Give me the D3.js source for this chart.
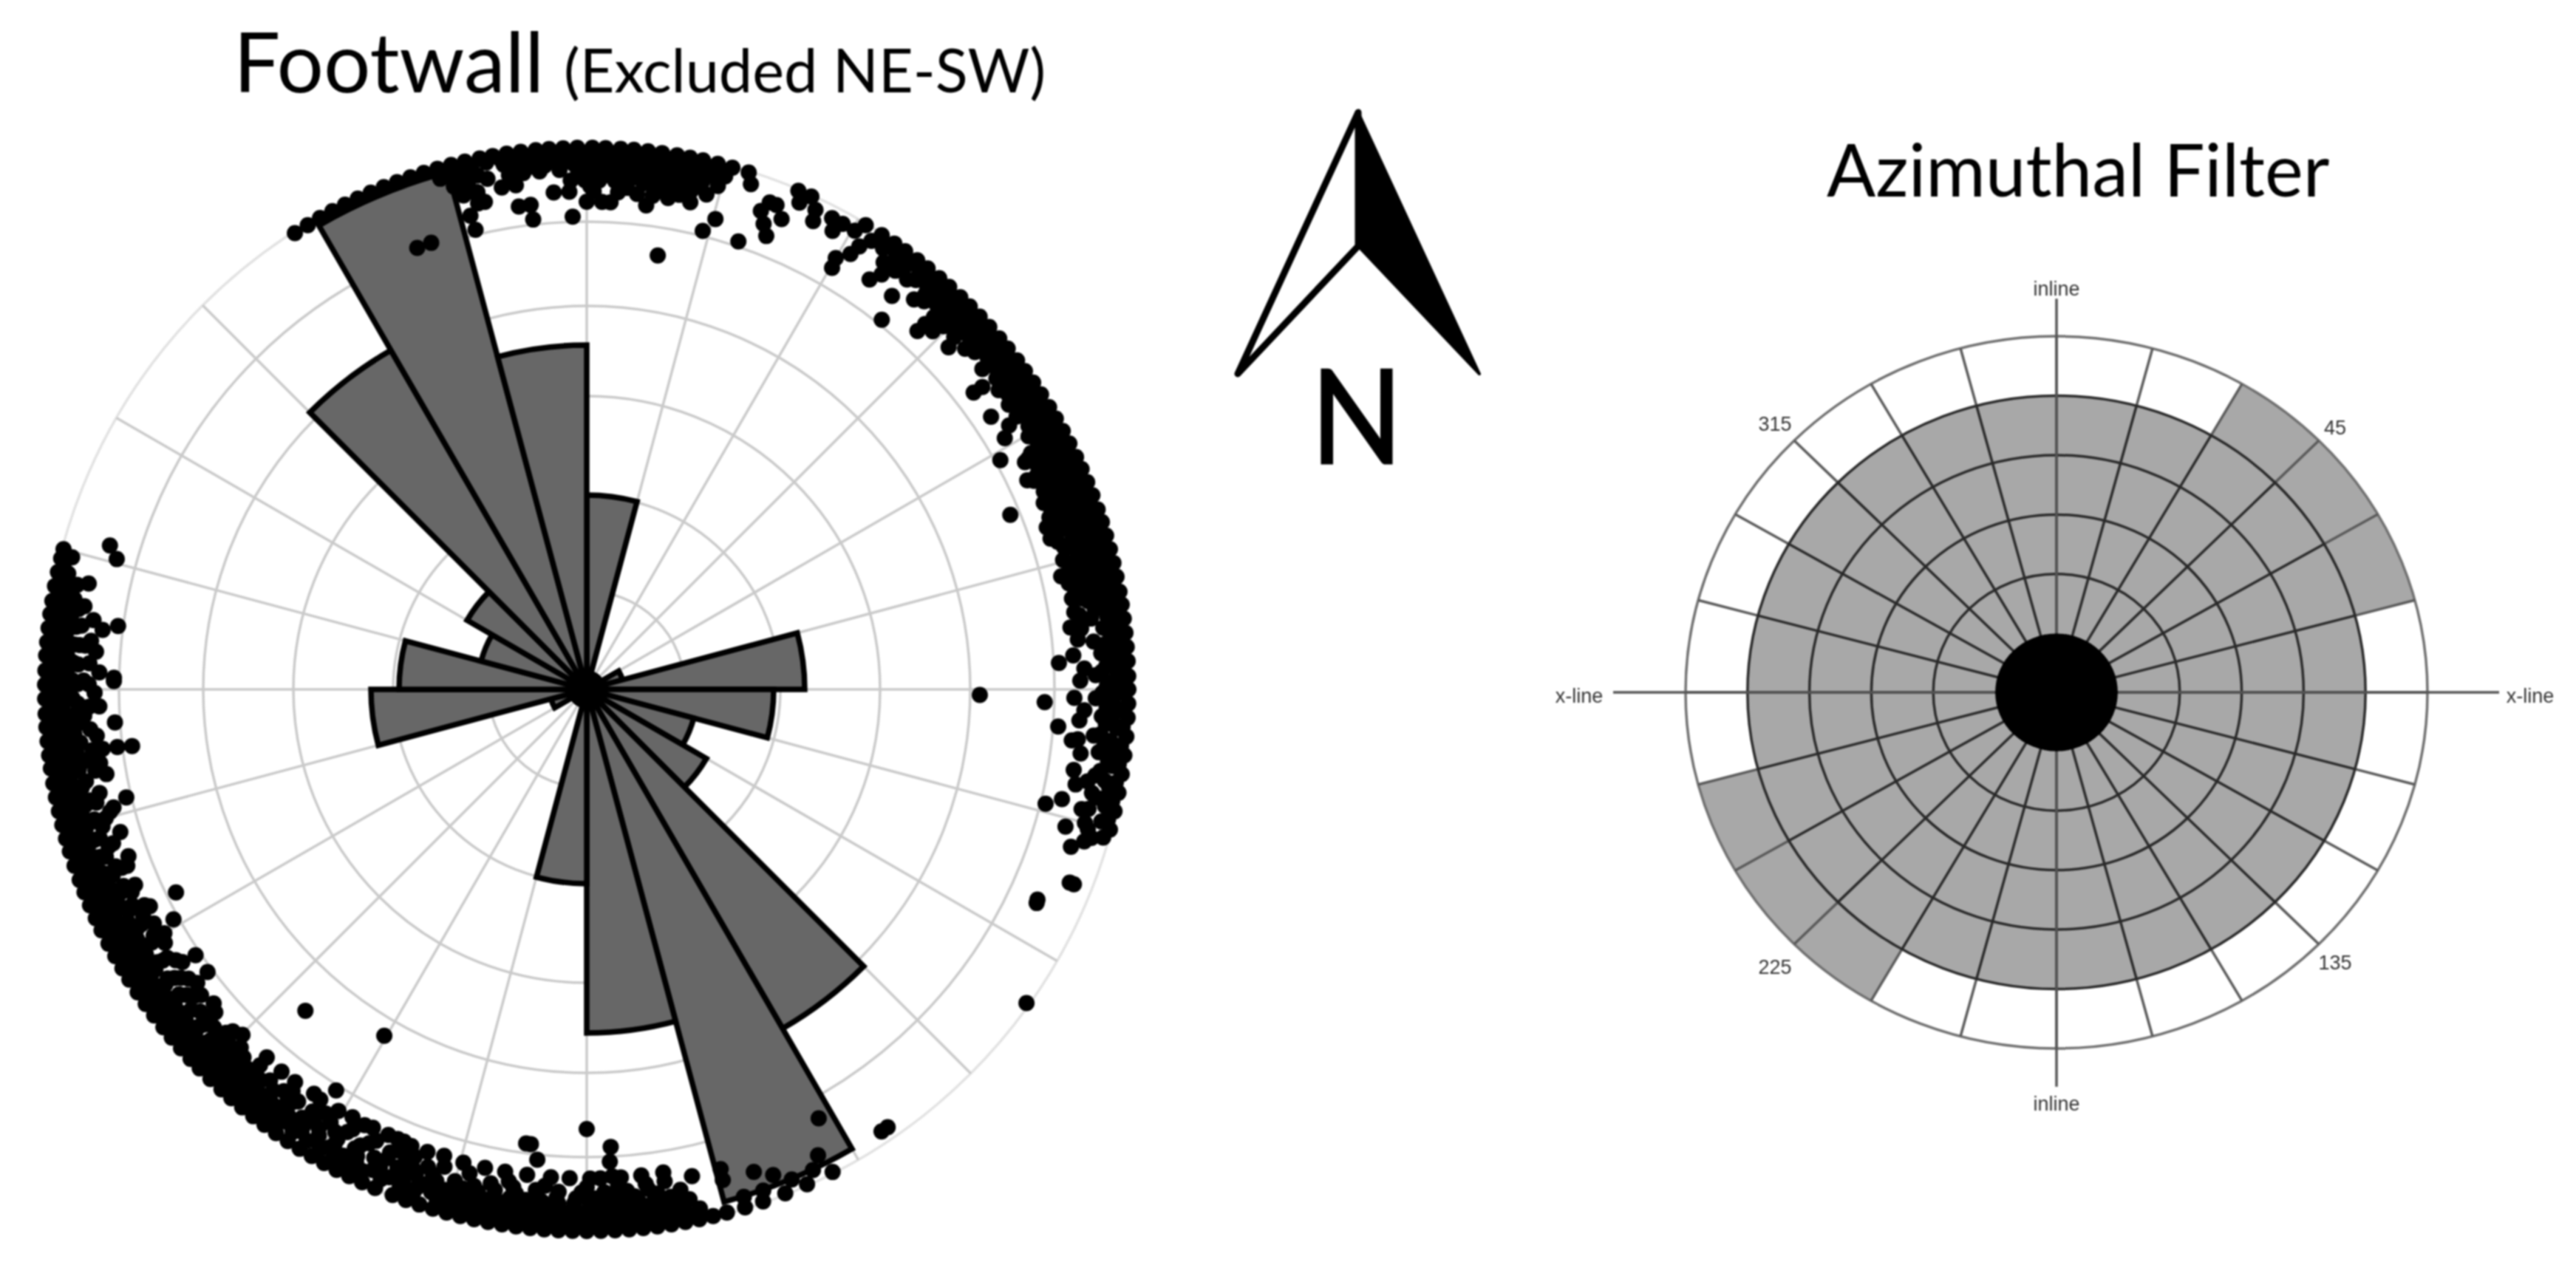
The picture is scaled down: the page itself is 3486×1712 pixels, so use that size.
<!DOCTYPE html>
<html><head><meta charset="utf-8">
<script src="https://cdn.jsdelivr.net/npm/d3@7"></script>
<style>html,body{margin:0;padding:0;background:#fff}svg{display:block;filter:blur(1.1px)}</style>
</head><body><div id="chart"></div>
<script>
// Rose diagram: one radial length per 15 degree bin, clockwise from north
const roseBinWidth = 15;
const roseValues = [263,22,22,22,50,295,253,150,187,530,718,465,263,22,22,22,50,292,254,148,187,530,725,466];
const roseRings = [133,262,397,519,633,735];
const roseSpokes = d3.range(0,360,15);

// Scatter points, each row: [radial value, azimuths]
const dotRows = [
 [733,[-32.6,-31,-29.5,-28,-26.5,-25,-23.5,-22,-20.5,-19,-17.5,-16,-14.5,-13,-11.4,-10,-8.5,-7,-5.4,-4,-2.5,-1,.6,2,3.6,5,6.5,8,9.6,11,12.4,14,15.6,17.4,23,24.5,31,33,34.6,36,37.6,39,40.6,42,43.6,45,46.5,48,49.6,51,52.6,54,55.5,57,58.6,60,61.5,63,64.6,66,67.5,69,70.6,72,73.5,75,76.5,78,79.6,81,82.5,84,85.5,87,88.6,90,91.5,93,95,97,99,101,103,105,153,156,158.5,161,163,165,166.5,168,169.5,171,172.5,174,175.5,177,178.5,180,181.5,183,184.5,186,187.5,189,190.5,192,193.5,195,196.5,198,199.5,201,203,204.5,206,207.5,209,210.5,212,213.5,215,216.5,218,219.5,221,222.4,224,225.6,227,228.5,230,231.4,233,234.5,236,237.6,239,240.5,242,243.6,245,246.5,248,249.4,251,252.6,254,255.5,257,258.5,260,261.6,263,264.5,266,267.4,269,270.5,272,273.6,275,276.5,278,279.4,281,282.5,284,285]],
 [727,[88,89.6,92.2,94,96,98,100,102,104,106]],
 [726,[-14,-12.4,-10.8,-9.2,-7.8,-6.2,-4.8,-3.2,-1.8,-.2,1.3,2.8,4.4,5.8,7.4,8.8,10.2,11.8,13.2,14.6,35,36.7,38.3,39.8,41.3,42.9,44.2,45.8,47.2,48.8,50.4,51.9,53.5,55,56.6,58.2,59.8,61.3,62.9,64.4,66,67.6,69.2,70.8,72.3,73.8,75.4,77,78.6,80.2,81.7,83.3,85,86.6,168.8,170.2,171.8,173.2,174.8,176.2,177.8,179.2,180.8,182.2,183.8,185.2,186.8,188.2,189.8,191.2,192.8,194.2,195.8,220.4,221.8,223.2,224.8,226.2,227.8,229.2,230.8,232.2,233.8,235.2,236.8,238.2,239.8,241.2,242.8,244.2,245.8,247.2,248.8,250.2,251.8,253.2,254.8,256.2,257.8,259.2,260.8,262.2,263.8,265.2,266.8,268.2,269.8,271.2,272.8,274.2,275.8,277.2,278.8,280.2,281.8,283]],
 [719,[-16,-14.4,-12.6,-9,-7.4,-5.8,-4.2,-2.6,-1,.7,2.3,4,5.6,7.2,8.8,10.4,12,13.6,15.1,18,23.6,25.5,27.5,28.8,30.3,32.4,33.9,35.6,37,38.7,40.2,41.8,43.3,44.9,46.4,48,49.6,51.2,52.7,54.3,55.8,57.4,59,60.5,62.1,63.7,65.2,66.8,68.3,69.9,71.5,73,74.6,76.1,77.7,79.3,80.8,82.4,84.6,86.4,88.2,90.4,92.3,94.2,96.8,98.3,100.6,102.7,104.4,145.5,146.3,154.8,157.3,160.6,162.8,167.7,169.3,170.8,172.4,174,175.6,177.2,178.8,180.4,182,183.6,185.2,186.8,188.4,190,191.6,193.2,194.8,196.4,199,200.6,202.8,205,206.8,208.4,210.2,211.8,213.6,215.4,217,218.6,220.2,221.8,223.4,225,226.6,228.2,229.8,231.4,233,234.6,236.2,237.8,239.4,241,242.6,244.2,245.8,247.4,249,250.6,252.2,253.8,255.4,257,258.6,260.2,261.8,263.4,265,266.6,268.2,269.8,271.4,273,274.6,276.2,277.8,279.4,281,282.6,284.4]],
 [712,[85.4,87,89.2,91.4,93.4,95.6,97.8,100,102,106.4,197.2,198.8,200.4,202,204,206,207.6,209.4,211,212.8,214.4,216,217.8]],
 [711,[-13.6,-12,-8,-6.4,-4.6,-3,-1.4,.2,1.8,3.4,5,6.6,8.2,9.8,11.4,13,38.8,40.4,42,43.6,45.2,46.8,48.4,50,51.6,53.2,54.8,56.4,58,59.6,61.2,62.8,64.4,66,67.6,69.2,70.8,72.4,74,75.6,77.2,78.8,80.4,82,83.6,169.6,171.2,172.8,174.4,176,177.6,179.2,180.8,182.4,184,185.6,187.2,188.8,190.4,192,193.6,195.2,219.6,221.2,222.8,224.4,226,227.6,229.2,230.8,232.4,234,235.6,237.2,238.8,240.4,242,243.6,245.2,246.8,248.4,250,251.6,253.2,254.8,256.4,258,259.6,261.2,262.8,264.4,266,267.6,269.2,270.8,272.4,274,275.6,277.2,278.8,280.4]],
 [704,[-14.8,-13.2,-11,-8.6,-7,-5.2,-3,-.4,1,2.8,4.4,6,7.8,9.4,11,12.8,14.6,20.6,21.4,25.8,28.2,31.6,34.8,36.4,38,40.6,42.2,43.8,45.6,47.2,48.8,50.4,52,53.6,55.2,56.8,58.4,60,61.6,63.2,64.8,66.4,68,69.6,71.2,72.8,74.4,76,77.6,79.2,80.8,83.2,85,87.4,89.6,92,93.8,96.4,99,102,105.6,107,111.8,153.6,159,168.6,170.2,171.8,173.4,175,176.6,178.2,179.8,181.4,183,184.6,186.2,187.8,189.4,191,192.6,194.2,195.8,198,201,203.4,206.2,209,211,213,215,217.2,219,220.8,222.4,224,225.6,227.2,228.8,230.4,232,233.6,235.2,236.8,238.4,240,241.6,243.2,244.8,246.4,248,249.6,251.2,252.8,254.4,256,257.6,259.2,260.8,262.4,264,265.6,267.2,268.8,270.4,272,273.6,275.2,276.8,278.4,280,281.6]],
 [698,[86,88,90.4,93,95,97,99.6,101.6,103.4,105]],
 [696,[-1,.4,2,3.8,5.4,7,8.8,10.6,12.2,41,43.4,45,49,52.8,55,59.2,61,63,64.8,66.6,68.4,70.2,72,73.8,75.6,77.4,79.2,81,170.6,172.4,174.2,176,177.8,179.6,181.4,183.2,185,186.8,188.6,190.4,192.2,194,197,199.4,201.6,204.4,206.8,209,211.4,213.6,216,218,219.8,221,223,225,227,229,231,233,235,237,239,241,243,245,247,249,251,253,255,257,259,261,263,265,267,269,271,273,275,277,279]],
 [689,[-14,-12.4,-9.6,-8,-1.8,-.2,1.4,3.2,4.6,6.4,8.4,10,11.8,13.6,20,22.5,31.2,35.4,40,43,44.5,46.2,48,51,54,56,57.6,60.2,62,63.8,65.6,67.2,69,70.8,72.6,74.2,76.2,78,80,82,84.6,88.4,91,95.2,100.4,103.6,108,164.5,169.4,172,174.6,176.6,179,181.2,183.4,185.6,188,190.4,192.8,195,197.6,200,203,206.4,209.6,212.4,215.6,218,220,222,224.2,226.6,228.8,231,233.2,235.4,237.6,239.8,242,244.2,246.4,248.6,250.8,253,255.2,257.4,259.6,261.8,264,266.2,268.4,270.6,272.8,275,277.2,279.4,282]],
 [681,[-12.4,.4,4.6,8,10.6,62,63.6,65.4,67.4,69.4,71.4,73.6,75.4,77.2,79.6,173,175.4,178,180.6,183.2,185.8,188.4,191,198.4,201,203,205.6,208.4,210.6,213,215,217,219,221,223,225.4,227.8,230.2,232.6,235,237.4,239.8,242.2,244.6,247,249.4,251.8,254.2,257,262,267,271,275]],
 [674,[-12.6,-11.8,-3.8,-2,.8,3.6,5.8,7.6,9.4,12,20.8,30,34.6,37.8,42.8,44,46.6,52.6,58,62.4,64.6,66.6,68.8,71,73.4,75.8,76.6,78.8,81.4,83,87.6,92.4,97.4,101,106,115.4,164.4,167.8,171,173.2,176.4,180,184.8,189,193.6,196.6,200.2,202,205,208,211.6,216.2,221,224,226.4,229,232,234.6,237.4,240.4,243,246,249,252,255,258,260.6,263,265.4,268,270.6,273,275.6,278,286.8]],
 [668,[62.6,65,67.8,69.6,72.6,74.8,77.6,79.4,81,84.2,89,93.6,95.8,99.4]],
 [666,[226,229,231.6,234,236.6,239,241.6,244,246.6,249,255.6,261.4,264.6,269.6,274.4]],
 [662,[171,173.6,176,178.4,179.6,182,184.2,187,189.6,192,194.6,199,201,207,210.5,213,216.6,218.6]],
 [660,[-13.8,-8,-6.6,0,1.8,2.8,7,15.3,21.6,30.2,42.7,52.5,56,59,64.6,70.6,72,76.6,82.7,86,91,96,103,151.6,177,197,202,202.8,204,206,208.7,214,221,224.9,229.9,233,236,240,243.6,250,253,256,260,263,268,272,277,285.5]],
 [640,[-21,-19.2,-13.6,-6.5,-1.7,14.2,18.7,38.6,61,86.8,94.5,104,177.2,186,212,233.3,235.8,240.9,256.8,263,266,271,271.4,277.7]],
 [620,[67.6,91.6,177,187,187.6,243.7,262.9]],
 [595,[9.3,180]],
 [578,[221.2]],
 [543,[210.3]],
 [532,[90.8]]
];
const dotExtras = [[125.5,731],[115,673],[111.8,710],[160.9,691]];

// Azimuthal filter: rings passed per 15 degree sector, clockwise from north
const filterRings = [1,2,3,4];
const filterSectors = [4,4,5,5,5,4,4,4,4,4,4,4,4,4,5,5,5,4,4,4,4,4,4,4];
const filterSpokes = d3.range(0,360,15);
const filterAngleLabels = ["45","135","225","315"];
const filterAxisLabels = ["inline","x-line","inline","x-line"];

const W=3486,H=1712;
const svg=d3.select("#chart").append("svg").attr("width",W).attr("height",H).attr("viewBox",`0 0 ${W} ${H}`);
const rad=d=>d*Math.PI/180;
const polar=(az,r)=>[r*Math.sin(rad(az)),-r*Math.cos(rad(az))];

// ---- Left: rose with scatter
const left=svg.append("g").attr("transform","translate(794,933)");
const rScale=d3.scaleLinear().domain([0,735]).range([0,735]);
left.selectAll("circle.ring").data(roseRings).join("circle").attr("class","ring")
  .attr("r",d=>rScale(d)).attr("fill","none").attr("stroke",(d,i)=>i==5?"#e2e2e2":"#cacaca").attr("stroke-width",3.5);
left.selectAll("line.spoke").data(roseSpokes).join("line").attr("class","spoke")
  .attr("x2",d=>polar(d,rScale(735))[0]).attr("y2",d=>polar(d,rScale(735))[1])
  .attr("stroke","#cacaca").attr("stroke-width",3.5);
const wedge=d3.arc().innerRadius(0);
left.selectAll("path.wedge").data(roseValues).join("path").attr("class","wedge")
  .attr("d",(d,i)=>wedge({outerRadius:rScale(d),startAngle:rad(i*roseBinWidth),endAngle:rad((i+1)*roseBinWidth)}))
  .attr("fill","#676767").attr("stroke","#000").attr("stroke-width",7.5).attr("stroke-linejoin","miter");
const dots=dotRows.flatMap(([r,list])=>list.map(az=>[az,r])).concat(dotExtras);
left.selectAll("circle.dot").data(dots).join("circle").attr("class","dot")
  .attr("cx",d=>polar(d[0],rScale(d[1]))[0]).attr("cy",d=>polar(d[0],rScale(d[1]))[1])
  .attr("r",11).attr("fill","#000");

const tFont="Lato, 'Open Sans', sans-serif";
const t1=svg.append("text").attr("x",316).attr("y",125).attr("font-family",tFont).attr("font-size",112).attr("fill","#000");
t1.append("tspan").text("Footwall");
t1.append("tspan").attr("x",763).attr("font-size",81).text("(Excluded NE-SW)");

// ---- Middle: north arrow
const arrowTop=[1838,152],arrowL=[1675,506],arrowR=[2002,506],arrowN=[1838,333];
svg.append("path").attr("d",d3.line()([arrowTop,arrowL,arrowN])+"Z").attr("fill","#fff").attr("stroke","#000").attr("stroke-width",9).attr("stroke-linejoin","round");
svg.append("path").attr("d",d3.line()([arrowTop,arrowR,arrowN])+"Z").attr("fill","#000").attr("stroke","#000").attr("stroke-width",4).attr("stroke-linejoin","round");
svg.append("text").attr("x",1774).attr("y",627).attr("font-family",tFont).attr("font-size",176).attr("fill","#000").attr("stroke","#000").attr("stroke-width",3).attr("textLength",124).attr("lengthAdjust","spacingAndGlyphs").text("N");

// ---- Right: azimuthal filter (the source panel is slightly squashed vertically)
const right=svg.append("g").attr("transform","translate(2783,937) scale(1,0.96)");
const fScale=d3.scaleLinear().domain([0,5]).range([83,502]);
const cell=d3.arc();
const nss=s=>s.attr("vector-effect","non-scaling-stroke");
filterSectors.forEach((n,i)=>{
  right.append("path").attr("d",cell({innerRadius:fScale(0),outerRadius:fScale(n),startAngle:rad(i*15),endAngle:rad((i+1)*15)})).attr("fill","#a8a8a8");
});
nss(right.append("circle").attr("r",fScale(5)).attr("fill","none").attr("stroke","#707070").attr("stroke-width",3.5));
nss(right.selectAll("line.fs").data(filterSpokes).join("line").attr("class","fs")
  .attr("x1",d=>polar(d,fScale(4))[0]).attr("y1",d=>polar(d,fScale(4))[1])
  .attr("x2",d=>polar(d,fScale(5))[0]).attr("y2",d=>polar(d,fScale(5))[1])
  .attr("stroke","#5a5a5a").attr("stroke-width",3.5));
nss(right.selectAll("line.fi").data(filterSpokes).join("line").attr("class","fi")
  .attr("x2",d=>polar(d,fScale(4))[0]).attr("y2",d=>polar(d,fScale(4))[1])
  .attr("stroke","#2a2a2a").attr("stroke-width",3.5));
nss(right.selectAll("circle.fr").data(filterRings).join("circle").attr("class","fr")
  .attr("r",d=>fScale(d)).attr("fill","none").attr("stroke","#2a2a2a").attr("stroke-width",3.5));
nss(right.append("line").attr("x1",-600).attr("x2",599).attr("stroke","#555").attr("stroke-width",3.5));
nss(right.append("line").attr("y1",-555).attr("y2",556).attr("stroke","#555").attr("stroke-width",3.5));
right.append("circle").attr("r",fScale(0)).attr("fill","#000");
const labels=svg.append("g").attr("transform","translate(2783,940)");
const lab=(x,y,s)=>labels.append("text").attr("x",x).attr("y",y).attr("text-anchor","middle").attr("dominant-baseline","central")
  .attr("font-family","'Liberation Sans',Arial,sans-serif").attr("font-size",27).attr("fill","#333").text(s);
lab(377,-361,filterAngleLabels[0]);lab(377,363,filterAngleLabels[1]);lab(-381,369,filterAngleLabels[2]);lab(-381,-366,filterAngleLabels[3]);
lab(0,-549,filterAxisLabels[0]);lab(641,2,filterAxisLabels[1]);lab(0,554,filterAxisLabels[2]);lab(-646,2,filterAxisLabels[3]);
svg.append("text").attr("x",2472).attr("y",266).attr("font-family",tFont).attr("font-size",98).attr("fill","#000").text("Azimuthal Filter");
</script></body></html>
